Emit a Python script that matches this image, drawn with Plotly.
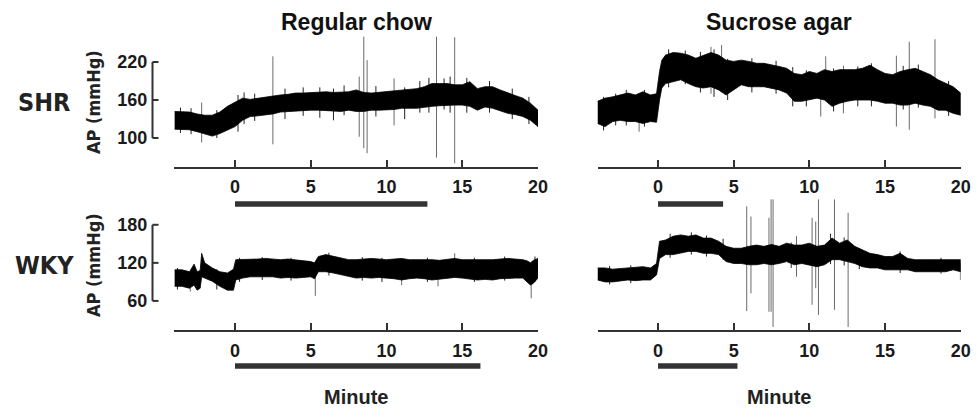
import plotly.graph_objects as go

# ---------------- data ----------------
# Envelope of the arterial-pressure trace (upper / lower edge, mmHg) per time point (minutes)
SHR_CHOW_MIN = [-4, -3.5, -3, -2.5, -2, -1.5, -1, -0.5, 0, 0.5, 1, 1.5, 2, 2.5, 3, 3.5, 4, 4.5, 5, 5.5,
                6, 6.5, 7, 7.5, 8, 8.5, 9, 9.5, 10, 10.5, 11, 11.5, 12, 12.5, 13, 13.5, 14, 14.5, 15,
                15.5, 16, 16.5, 17, 17.5, 18, 18.5, 19, 19.5, 20]
SHR_CHOW_HIGH = [142, 141, 141, 138, 136, 136, 141, 150, 157, 163, 161, 163, 165, 166, 168, 169, 171, 171,
                 172, 172, 173, 172, 173, 173, 176, 172, 171, 172, 173, 175, 176, 176, 178, 181, 186, 186,
                 186, 184, 184, 189, 178, 181, 181, 176, 171, 167, 163, 155, 144]
SHR_CHOW_LOW = [114, 113, 113, 110, 107, 103, 107, 112, 118, 128, 134, 135, 136, 138, 141, 141, 142, 143,
                144, 144, 144, 143, 142, 144, 142, 142, 144, 144, 144, 145, 147, 147, 147, 148, 150, 151,
                152, 152, 152, 150, 144, 149, 147, 143, 139, 137, 134, 128, 118]
# small excursions just outside the envelope
SHR_CHOW_WHISK_MIN = [-3.6, -2.9, -1.2, 0.2, 0.6, 1.3, 3.3, 4.5, 5.6, 6.5, 7.2, 9.3, 11.2, 12.2, 12.8,
                      13.8, 14.2, 15.3, 16.8, 18.3, 19.4]
SHR_CHOW_WHISK_LOW = [108, 106, 100, 110, 122, 127, 130, 135, 132, 128, 136, 134, 130, 140, 140, 145, 140,
                      140, 140, 130, 122]
SHR_CHOW_WHISK_HIGH = [148, 147, 144, 168, 172, 170, 178, 180, 180, 178, 183, 182, 180, 190, 195, 194,
                       197, 195, 190, 178, 165]
# tall artefact spikes
SHR_CHOW_SPIKE_MIN = [-2.2, 2.5, 8.2, 8.5, 8.72, 10.5, 13.3, 14.5]
SHR_CHOW_SPIKE_LOW = [93, 90, 102, 84, 76, 120, 69, 60]
SHR_CHOW_SPIKE_HIGH = [156, 229, 197, 260, 223, 194, 260, 259]

SHR_SUC_MIN = [-4, -3.5, -3, -2.5, -2, -1.5, -1, -0.5, -0.1, 0.1, 0.25, 0.5, 1, 1.5, 2, 2.5, 3, 3.5, 4,
               4.5, 5, 5.5, 6, 6.5, 7, 7.5, 8, 8.5, 9, 9.5, 10, 10.5, 11, 11.5, 12, 12.5, 13, 13.5, 14,
               14.5, 15, 15.5, 16, 16.5, 17, 17.5, 18, 18.5, 19, 19.5, 20]
SHR_SUC_HIGH = [158, 163, 165, 168, 171, 168, 173, 168, 170, 205, 223, 231, 235, 234, 231, 226, 231, 235,
                231, 223, 221, 223, 221, 218, 218, 216, 213, 210, 202, 200, 205, 202, 208, 205, 208, 208,
                208, 210, 215, 208, 202, 200, 205, 208, 210, 205, 200, 192, 187, 181, 171]
SHR_SUC_LOW = [123, 118, 126, 128, 126, 126, 123, 126, 125, 160, 179, 186, 189, 192, 186, 181, 179, 181,
               176, 168, 176, 184, 181, 181, 181, 179, 176, 171, 158, 158, 160, 163, 160, 150, 155, 158,
               160, 160, 160, 158, 155, 155, 152, 152, 155, 152, 150, 144, 144, 139, 136]
SHR_SUC_WHISK_MIN = [-3.6, -2.8, -2.1, -0.9, 0.7, 1.8, 2.8, 3.7, 4.6, 6.2, 7.8, 8.9, 9.8, 11.6, 13.2,
                     14.1, 16.2, 17.2, 19.2]
SHR_SUC_WHISK_LOW = [112, 120, 120, 118, 180, 185, 172, 165, 160, 172, 170, 150, 150, 142, 150, 150, 145,
                     148, 135]
SHR_SUC_WHISK_HIGH = [165, 170, 176, 176, 240, 238, 236, 240, 225, 226, 222, 212, 207, 210, 213, 218, 214,
                      216, 190]
SHR_SUC_SPIKE_MIN = [-1.25, 3.5, 4.2, 10.75, 11.08, 12.25, 15.75, 16.6, 18.3]
SHR_SUC_SPIKE_LOW = [110, 170, 176, 134, 170, 139, 118, 113, 131]
SHR_SUC_SPIKE_HIGH = [150, 244, 247, 190, 229, 214, 230, 252, 256]

WKY_CHOW_MIN = [-4, -3.5, -3, -2.7, -2.5, -2.3, -2.2, -2, -1.5, -1, -0.5, -0.1, 0.05, 0.5, 1, 1.5, 2,
                2.5, 3, 3.5, 4, 4.5, 5, 5.25, 5.5, 6, 6.5, 7, 7.5, 8, 8.5, 9, 9.5, 10, 10.5, 11, 11.5,
                12, 12.5, 13, 13.5, 14, 14.5, 15, 15.5, 16, 16.5, 17, 17.5, 18, 18.5, 19, 19.3, 19.5,
                19.7, 20]
WKY_CHOW_HIGH = [109, 109, 106, 118, 106, 108, 135, 120, 112, 106, 104, 110, 125, 125, 125, 126, 127,
                 126, 125, 126, 125, 124, 122, 120, 130, 133, 130, 127, 125, 125, 126, 127, 126, 125,
                 126, 127, 125, 125, 126, 125, 124, 125, 127, 125, 125, 125, 124, 125, 126, 127, 126,
                 125, 123, 120, 124, 127]
WKY_CHOW_LOW = [83, 83, 80, 85, 77, 80, 98, 96, 91, 83, 77, 77, 93, 96, 98, 98, 98, 98, 96, 97, 96, 97,
                98, 95, 106, 106, 104, 101, 99, 96, 97, 96, 97, 96, 95, 93, 95, 96, 95, 93, 95, 96, 97,
                96, 95, 93, 94, 93, 95, 96, 96, 96, 90, 85, 88, 96]
WKY_CHOW_WHISK_MIN = [-3.8, -1.2, 0.3, 1.8, 3.7, 6.2, 8.4, 9.7, 12.7, 15.8, 17.8, 19.8]
WKY_CHOW_WHISK_LOW = [78, 78, 90, 93, 92, 100, 92, 90, 90, 90, 92, 90]
WKY_CHOW_WHISK_HIGH = [112, 110, 128, 129, 128, 136, 129, 128, 128, 128, 130, 130]
WKY_CHOW_SPIKE_MIN = [-2.95, 5.3, 11.0, 13.4, 14.5, 19.55]
WKY_CHOW_SPIKE_LOW = [75, 68, 85, 83, 100, 64]
WKY_CHOW_SPIKE_HIGH = [100, 115, 120, 118, 135, 110]

WKY_SUC_MIN = [-4, -3.5, -3, -2.5, -2, -1.5, -1, -0.5, -0.1, 0.1, 0.5, 1, 1.5, 2, 2.5, 3, 3.5, 4, 4.5,
               5, 5.5, 6, 6.5, 7, 7.5, 8, 8.5, 9, 9.5, 10, 10.5, 11, 11.5, 12, 12.5, 13, 13.5, 14, 14.5,
               15, 15.5, 16, 16.5, 17, 17.5, 18, 18.5, 19, 19.5, 20]
WKY_SUC_HIGH = [112, 112, 110, 111, 112, 112, 114, 112, 119, 154, 156, 162, 164, 162, 164, 159, 159, 154,
                146, 143, 143, 146, 148, 146, 149, 146, 151, 148, 148, 151, 146, 148, 159, 151, 156, 146,
                140, 135, 133, 130, 130, 135, 127, 125, 125, 125, 125, 125, 125, 125]
WKY_SUC_LOW = [93, 90, 90, 91, 93, 92, 93, 93, 101, 127, 133, 133, 135, 138, 138, 135, 135, 133, 122,
               119, 119, 117, 117, 119, 117, 119, 122, 117, 119, 117, 114, 117, 125, 125, 122, 119, 114,
               112, 112, 109, 109, 109, 109, 106, 106, 106, 106, 106, 109, 106]
WKY_SUC_WHISK_MIN = [-3.2, -1.8, 0.8, 2.2, 3.2, 4.3, 8.8, 11.4, 12.3, 13.3, 16.0, 18.7]
WKY_SUC_WHISK_LOW = [86, 88, 128, 133, 130, 125, 112, 118, 116, 110, 104, 103]
WKY_SUC_WHISK_HIGH = [115, 116, 166, 168, 163, 158, 152, 166, 160, 142, 138, 128]
WKY_SUC_SPIKE_MIN = [5.86, 6.14, 7.33, 7.47, 7.6, 9.15, 10.18, 10.42, 10.6, 11.66, 12.56, 19.98]
WKY_SUC_SPIKE_LOW = [44, 72, 43, 43, 19, 98, 54, 80, 38, 46, 19, 93]
WKY_SUC_SPIKE_HIGH = [209, 193, 191, 220, 220, 162, 191, 185, 220, 220, 199, 120]

FOOD_MINUTES = [12.7, 4.3, 16.2, 5.25]          # duration of food presentation (black bar)
X_TICKS = [0, 5, 10, 15, 20]
Y_TICKS_SHR = [100, 160, 220]
Y_TICKS_WKY = [60, 120, 180]
COL_TITLES = ["Regular chow", "Sucrose agar"]
ROW_LABELS = ["SHR", "WKY"]
Y_TITLE = "AP (mmHg)"
X_TITLE = "Minute"

# ---------------- layout geometry ----------------
W, H = 976, 410
X_RANGE = [-4, 20]
Y_RANGE_SHR = [54.7, 262.7]
Y_RANGE_WKY = [14.2, 222.2]

def px_x(p):
    return p / W

def px_y(p):
    return 1 - p / H

X_DOM = [[px_x(174.4), px_x(538.0)], [px_x(597.5), px_x(960.7)]]
Y_DOM = [[px_y(166.7), px_y(35.0)], [px_y(330.0), px_y(198.0)]]

FONT = "Liberation Sans, Arial, sans-serif"
NARROW = "Liberation Sans Narrow, Arial Narrow, DejaVu Sans Condensed, Liberation Sans, sans-serif"
AXC = "#333333"

panels = [
    (SHR_CHOW_MIN, SHR_CHOW_HIGH, SHR_CHOW_LOW, SHR_CHOW_WHISK_MIN, SHR_CHOW_WHISK_LOW, SHR_CHOW_WHISK_HIGH,
     SHR_CHOW_SPIKE_MIN, SHR_CHOW_SPIKE_LOW, SHR_CHOW_SPIKE_HIGH),
    (SHR_SUC_MIN, SHR_SUC_HIGH, SHR_SUC_LOW, SHR_SUC_WHISK_MIN, SHR_SUC_WHISK_LOW, SHR_SUC_WHISK_HIGH,
     SHR_SUC_SPIKE_MIN, SHR_SUC_SPIKE_LOW, SHR_SUC_SPIKE_HIGH),
    (WKY_CHOW_MIN, WKY_CHOW_HIGH, WKY_CHOW_LOW, WKY_CHOW_WHISK_MIN, WKY_CHOW_WHISK_LOW, WKY_CHOW_WHISK_HIGH,
     WKY_CHOW_SPIKE_MIN, WKY_CHOW_SPIKE_LOW, WKY_CHOW_SPIKE_HIGH),
    (WKY_SUC_MIN, WKY_SUC_HIGH, WKY_SUC_LOW, WKY_SUC_WHISK_MIN, WKY_SUC_WHISK_LOW, WKY_SUC_WHISK_HIGH,
     WKY_SUC_SPIKE_MIN, WKY_SUC_SPIKE_LOW, WKY_SUC_SPIKE_HIGH),
]


def segments(ts, lows, highs):
    xs, ys = [], []
    for t, a, b in zip(ts, lows, highs):
        xs += [t, t, None]
        ys += [a, b, None]
    return xs, ys


fig = go.Figure()
layout = dict(width=W, height=H, autosize=False, margin=dict(l=0, r=0, t=0, b=0, pad=0),
              showlegend=False, plot_bgcolor="white", paper_bgcolor="white")
shapes = []
annotations = []

for i, (tm, hi, lo, wt, wl, wh, st, sl, sh) in enumerate(panels):
    row, col = divmod(i, 2)
    n = i + 1
    xa = "x" if n == 1 else f"x{n}"
    ya = "y" if n == 1 else f"y{n}"
    xkey = "xaxis" if n == 1 else f"xaxis{n}"
    ykey = "yaxis" if n == 1 else f"yaxis{n}"
    yticks = Y_TICKS_SHR if row == 0 else Y_TICKS_WKY
    yrange = Y_RANGE_SHR if row == 0 else Y_RANGE_WKY

    # tall artefact spikes (thin gray)
    sx, sy = segments(st, sl, sh)
    fig.add_trace(go.Scatter(x=sx, y=sy, xaxis=xa, yaxis=ya, mode="lines",
                             line=dict(color="#6a6a6a", width=1), hoverinfo="skip"))
    # short excursions around the band
    wx, wy = segments(wt, wl, wh)
    fig.add_trace(go.Scatter(x=wx, y=wy, xaxis=xa, yaxis=ya, mode="lines",
                             line=dict(color="#222222", width=1), hoverinfo="skip"))
    # envelope band of the trace
    fig.add_trace(go.Scatter(x=list(tm) + list(tm)[::-1], y=list(hi) + list(lo)[::-1],
                             xaxis=xa, yaxis=ya, mode="lines", fill="toself",
                             fillcolor="black", line=dict(color="black", width=0.8),
                             hoverinfo="skip"))

    layout[xkey] = dict(domain=X_DOM[col], range=X_RANGE, anchor=ya, showgrid=False, zeroline=False,
                        automargin=False, showline=True, linecolor=AXC, linewidth=2, ticks="inside",
                        ticklen=7, tickwidth=2, tickcolor=AXC, tickvals=X_TICKS, ticklabelstandoff=3,
                        tickfont=dict(family=FONT, size=18, color="#1a1a1a", weight="bold"))
    layout[ykey] = dict(domain=Y_DOM[row], range=yrange, anchor=xa, showgrid=False, zeroline=False,
                        automargin=False, showline=False, ticks="", tickvals=yticks,
                        showticklabels=(col == 0), ticklabelstandoff=26,
                        tickfont=dict(family=FONT, size=18, color="#1a1a1a", weight="bold"))

    # food-presentation bar
    bar_c = 204.0 if row == 0 else 366.0
    shapes.append(dict(type="rect", xref=xa, yref="paper", x0=0, x1=FOOD_MINUTES[i],
                       y0=px_y(bar_c + 2.8), y1=px_y(bar_c - 2.8),
                       fillcolor="#333333", line=dict(width=0)))

    # bracket-style y axis for the left column
    if col == 0:
        dom_px = 538.0 - 174.4
        xv = (152.5 - 174.4) / dom_px
        xt = (158.5 - 174.4) / dom_px
        shapes.append(dict(type="line", xref=f"{xa} domain", yref=ya, x0=xv, x1=xv,
                           y0=yticks[0], y1=yticks[-1], line=dict(color=AXC, width=2)))
        for v in yticks:
            shapes.append(dict(type="line", xref=f"{xa} domain", yref=ya, x0=xv, x1=xt,
                               y0=v, y1=v, line=dict(color=AXC, width=2)))

# column titles and x titles
for col, title in enumerate(COL_TITLES):
    cx = (X_DOM[col][0] + X_DOM[col][1]) / 2
    annotations.append(dict(text=title, x=cx, y=px_y(22), xref="paper", yref="paper",
                            showarrow=False, xanchor="center", yanchor="middle",
                            font=dict(family=FONT, size=23, color="#111111", weight="bold")))
    annotations.append(dict(text=X_TITLE, x=cx, y=px_y(397), xref="paper", yref="paper",
                            showarrow=False, xanchor="center", yanchor="middle",
                            font=dict(family=FONT, size=20, color="#222222", weight="bold")))

# row labels and y titles
for row, lab in enumerate(ROW_LABELS):
    cy = 102 if row == 0 else 265
    annotations.append(dict(text=lab, x=px_x(44), y=px_y(cy), xref="paper", yref="paper",
                            showarrow=False, xanchor="center", yanchor="middle",
                            font=dict(family=NARROW, size=25, color="#222222", weight="bold")))
    annotations.append(dict(text=Y_TITLE, x=px_x(93), y=px_y(cy), xref="paper", yref="paper",
                            showarrow=False, xanchor="center", yanchor="middle", textangle=-90,
                            font=dict(family=NARROW, size=18, color="#222222", weight="bold")))

layout["shapes"] = shapes
layout["annotations"] = annotations
fig.update_layout(**layout)
# remove the browser's default page margin so the 976x410 figure fills the window exactly
fig.write_html("out.html", config={"displayModeBar": False},
               post_script="document.body.style.margin='0';document.body.style.overflow='hidden';")
